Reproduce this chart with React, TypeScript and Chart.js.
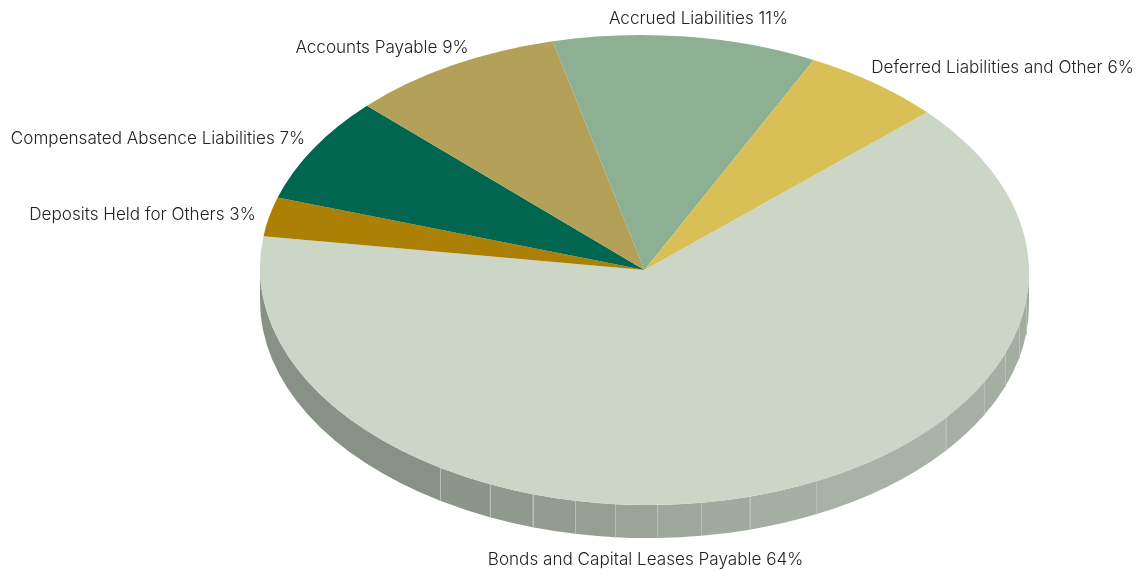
import React, { useEffect, useRef } from "react";
import { Chart, registerables } from "chart.js";

Chart.register(...registerables);

const categories = [
  "Bonds and Capital Leases Payable",
  "Deposits Held for Others",
  "Compensated Absence Liabilities",
  "Accounts Payable",
  "Accrued Liabilities",
  "Deferred Liabilities and Other",
];
const sliceValues = [64.0, 2.69, 7.33, 9.0, 11.08, 5.89];
const percentLabels = [64, 3, 7, 9, 11, 6];
const sliceColors = ["#cbd6c6", "#ab8005", "#00664f", "#b3a15a", "#8cb091", "#d9c056"];
const wallEdgesDeg = [0, 7.2, 13.1, 20.3, 28.0, 38.4, 63.5, 74.1, 81.5, 88.1, 94.4, 100.4, 106.9, 113.7, 122.1, 180];
const wallColors = ["#a1ac9f", "#a2ada0", "#a3aea1", "#a4afa2", "#a5afa3", "#a9b2a6", "#a5aea2", "#a1aa9e", "#9ea79b", "#9aa396", "#979f93", "#949c90", "#90998d", "#8c9589", "#889186"];
const labelCenterX = [645.5, 142.5, 158, 382, 698.5, 1002.5];
const labelCenterY = [560, 215, 139, 48, 19, 68];

const RX = 384.5;
const RY = 235;
const DEPTH = 33;
const TILT = 0.006;
const FONT = "300 17.1px Inter";

const pie3d = {
  id: "pie3d",
  beforeDatasetsDraw(chart: any) {
    const { ctx } = chart;
    const arc = chart.getDatasetMeta(0).data[0];
    const { x, y, outerRadius } = arc.getProps(["x", "y", "outerRadius"], true);
    ctx.save();
    ctx.translate(x, y);
    ctx.transform(1, TILT, 0, 1, 0, 0);
    ctx.translate(-x, -y);
    for (let i = 0; i < wallColors.length; i++) {
      const a0 = (wallEdgesDeg[i] * Math.PI) / 180;
      const a1 = (wallEdgesDeg[i + 1] * Math.PI) / 180;
      ctx.beginPath();
      ctx.ellipse(x, y, RX, RY, 0, a0, a1);
      ctx.ellipse(x, y + DEPTH, RX, RY, 0, a1, a0, true);
      ctx.closePath();
      ctx.fillStyle = wallColors[i];
      ctx.fill();
    }
    ctx.strokeStyle = "#b8c0b5";
    ctx.lineWidth = 1;
    for (let i = 1; i < wallColors.length; i++) {
      const a = (wallEdgesDeg[i] * Math.PI) / 180;
      const px = Math.round(x + RX * Math.cos(a)) + 0.5;
      const py = y + RY * Math.sin(a);
      ctx.beginPath();
      ctx.moveTo(px, py);
      ctx.lineTo(px, py + DEPTH);
      ctx.stroke();
    }
    ctx.translate(x, y);
    ctx.scale(RX / outerRadius, RY / outerRadius);
    ctx.translate(-x, -y);
  },
  afterDatasetsDraw(chart: any) {
    const { ctx } = chart;
    ctx.restore();
    ctx.save();
    ctx.font = FONT;
    ctx.fillStyle = "#222222";
    ctx.textAlign = "center";
    ctx.textBaseline = "middle";
    categories.forEach((c, i) => {
      ctx.fillText(`${c} ${percentLabels[i]}%`, labelCenterX[i], labelCenterY[i]);
    });
    ctx.restore();
  },
};

export default function App() {
  const ref = useRef<HTMLCanvasElement>(null);
  useEffect(() => {
    const chart = new Chart(ref.current!, {
      type: "pie",
      data: {
        labels: categories,
        datasets: [{ data: sliceValues, backgroundColor: sliceColors, borderWidth: 0 }],
      },
      options: {
        responsive: false,
        animation: false,
        rotation: 47.3,
        layout: { padding: { left: 149, bottom: 31 } },
        plugins: { legend: { display: false }, tooltip: { enabled: false } },
        events: [],
      },
      plugins: [pie3d],
    } as any);
    return () => chart.destroy();
  }, []);
  return (
    <canvas
      ref={ref}
      width={1140}
      height={571}
      style={{ position: "fixed", left: 0, top: 0, width: 1140, height: 571 }}
    />
  );
}
